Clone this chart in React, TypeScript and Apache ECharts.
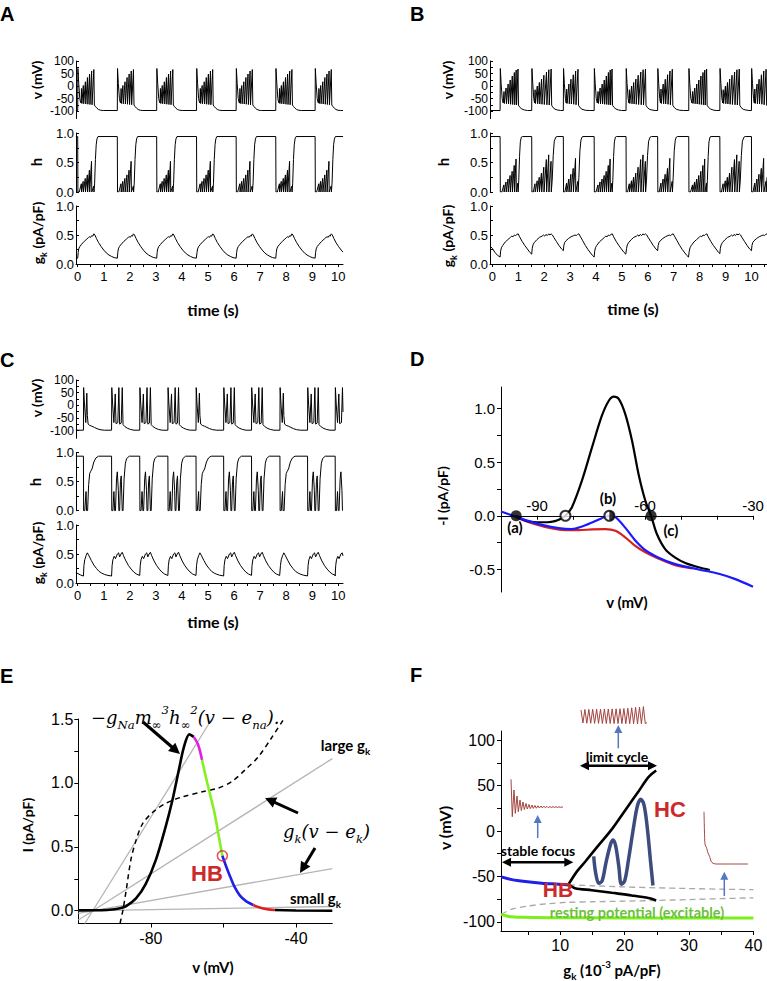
import React, { useEffect, useRef } from "react";
import * as echarts from "echarts";

type P = [number, number];

// ================= Panel A (regular bursting) =================
const A_ONSETS = [0, 1.52, 3.03, 4.56, 6.08, 7.6, 9.11];
const A_TYPES = [0, 0, 0, 0, 0, 0, 0];
const A_PRE_V: P[] = [[-0.07, -98]];
const A_PRE_H: P[] = [[-0.07, 0.94]];
const A_PRE_GK: P[] = [[-0.07, 0.1]];
const A_V: P[] = [[0,-98],[0.008,70],[0.04,10],[0.08,-50],[0.11,-65],[0.13,-68],[0.145,-10],[0.16,-70],[0.215,2],[0.23,-71],[0.295,17],[0.31,-72],[0.375,34],[0.39,-73],[0.455,48],[0.47,-74],[0.535,60],[0.55,-75],[0.62,66],[0.64,-76],[0.68,-82],[0.74,-89],[0.8,-94],[0.88,-97],[0.98,-98]];
const A_H: P[] = [[0,0.94],[0.008,0],[0.06,0],[0.14,0.14],[0.15,0],[0.21,0.18],[0.22,0],[0.29,0.23],[0.3,0],[0.37,0.29],[0.38,0],[0.45,0.37],[0.46,0],[0.53,0.52],[0.54,0],[0.615,0.1],[0.625,0],[0.65,0.15],[0.68,0.55],[0.71,0.8],[0.74,0.9],[0.78,0.94]];
const A_GK: P[] = [[0,0.1],[0.02,0.2],[0.04,0.26],[0.08,0.3],[0.15,0.34],[0.25,0.39],[0.35,0.43],[0.42,0.46],[0.46,0.47],[0.5,0.46],[0.54,0.49],[0.58,0.48],[0.62,0.52],[0.66,0.5],[0.72,0.44],[0.8,0.37],[0.9,0.3],[1.0,0.24],[1.1,0.19],[1.2,0.155],[1.3,0.13],[1.4,0.11],[1.52,0.1]];

// ================= Panel B (three alternating burst types) =================
const B_ONSETS = [0.3, 1.52, 2.74, 3.93, 5.16, 6.38, 7.58, 8.78, 10.0];
const B_TYPES = [0, 1, 2, 0, 1, 2, 0, 1, 2];
const B_PRE_V: P[] = [[-0.09, -98]];
const B_PRE_H: P[] = [[-0.09, 0.94]];
const B_PRE_GK: P[] = [[-0.09,0.31],[0,0.27],[0.1,0.2],[0.2,0.15],[0.3,0.12]];
const B1_V: P[] = [[0,-98],[0.008,70],[0.04,10],[0.08,-50],[0.12,-68],[0.15,-22],[0.165,-70],[0.23,-8],[0.245,-71],[0.31,8],[0.325,-72],[0.39,24],[0.405,-73],[0.47,40],[0.485,-74],[0.55,54],[0.565,-75],[0.62,64],[0.635,-76],[0.69,68],[0.71,-77],[0.76,-85],[0.84,-92],[0.94,-96],[1.06,-98]];
const B1_H: P[] = [[0,0.94],[0.008,0],[0.07,0],[0.145,0.12],[0.155,0],[0.225,0.17],[0.235,0],[0.305,0.22],[0.315,0],[0.385,0.28],[0.395,0],[0.465,0.35],[0.475,0],[0.545,0.45],[0.555,0],[0.615,0.56],[0.625,0],[0.685,0.15],[0.695,0],[0.72,0.2],[0.75,0.6],[0.78,0.85],[0.82,0.93],[0.86,0.94]];
const B1_GK: P[] = [[0,0.12],[0.02,0.22],[0.05,0.28],[0.1,0.32],[0.2,0.38],[0.3,0.42],[0.4,0.46],[0.45,0.48],[0.5,0.47],[0.55,0.5],[0.6,0.49],[0.65,0.51],[0.7,0.52],[0.75,0.47],[0.85,0.39],[0.95,0.32],[1.05,0.26],[1.15,0.2],[1.22,0.17]];
const B2_V: P[] = [[0,-98],[0.008,70],[0.04,10],[0.08,-50],[0.11,-68],[0.13,-15],[0.145,-70],[0.215,0],[0.23,-71],[0.295,14],[0.31,-72],[0.38,28],[0.395,-73],[0.47,43],[0.485,-74],[0.57,56],[0.585,-75],[0.66,65],[0.675,-76],[0.75,68],[0.77,-77],[0.82,-86],[0.9,-93],[1.0,-96],[1.12,-98]];
const B2_H: P[] = [[0,0.94],[0.008,0],[0.06,0],[0.125,0.14],[0.135,0],[0.21,0.19],[0.22,0],[0.29,0.25],[0.3,0],[0.375,0.32],[0.385,0],[0.465,0.42],[0.475,0],[0.565,0.55],[0.575,0],[0.655,0.63],[0.665,0],[0.745,0.52],[0.755,0],[0.79,0.2],[0.83,0.62],[0.87,0.86],[0.93,0.93],[0.98,0.94]];
const B2_GK: P[] = [[0,0.17],[0.02,0.27],[0.05,0.33],[0.1,0.37],[0.2,0.42],[0.3,0.46],[0.4,0.48],[0.45,0.5],[0.5,0.48],[0.55,0.51],[0.6,0.49],[0.66,0.52],[0.7,0.5],[0.75,0.52],[0.8,0.5],[0.85,0.46],[0.95,0.39],[1.05,0.32],[1.15,0.26],[1.22,0.23]];
const B3_V: P[] = [[0,-98],[0.008,70],[0.04,10],[0.08,-50],[0.11,-68],[0.13,-12],[0.145,-70],[0.215,8],[0.23,-71],[0.295,27],[0.31,-72],[0.385,45],[0.4,-73],[0.475,60],[0.49,-75],[0.565,67],[0.585,-77],[0.64,-86],[0.72,-93],[0.85,-97],[1.0,-98]];
const B3_H: P[] = [[0,0.94],[0.008,0],[0.06,0],[0.125,0.15],[0.135,0],[0.21,0.22],[0.22,0],[0.29,0.3],[0.3,0],[0.38,0.4],[0.39,0],[0.47,0.57],[0.48,0],[0.56,0.18],[0.57,0],[0.6,0.25],[0.64,0.7],[0.68,0.88],[0.72,0.93],[0.76,0.94]];
const B3_GK: P[] = [[0,0.23],[0.02,0.32],[0.05,0.37],[0.1,0.4],[0.2,0.44],[0.3,0.47],[0.4,0.49],[0.45,0.5],[0.5,0.49],[0.55,0.51],[0.6,0.52],[0.65,0.48],[0.75,0.4],[0.85,0.32],[0.95,0.25],[1.05,0.19],[1.12,0.15],[1.19,0.12]];

// ================= Panel C (2-spike and 4-spike bursts) =================
const C_ONSETS = [0.22, 1.3, 2.38, 3.46, 4.54, 5.6, 6.67, 7.76, 8.82, 9.88];
const C_TYPES = [0, 1, 1, 1, 0, 1, 1, 0, 1, 1];
const C_PRE_V: P[] = [[-0.07, -98]];
const C_PRE_H: P[] = [[-0.07, 0.94]];
const C_PRE_GK: P[] = [[-0.07,0.18],[0.1,0.14],[0.22,0.12]];
const CS_V: P[] = [[0,-98],[0.008,70],[0.04,5],[0.09,-68],[0.13,48],[0.15,-40],[0.18,-74],[0.24,-79],[0.32,-82],[0.42,-87],[0.52,-92],[0.64,-96],[0.8,-98]];
const CS_H: P[] = [[0,0.94],[0.008,0],[0.05,0],[0.1,0.33],[0.12,0],[0.16,0],[0.2,0.45],[0.24,0.64],[0.28,0.68],[0.33,0.72],[0.4,0.84],[0.48,0.91],[0.58,0.94]];
const CS_GK: P[] = [[0,0.12],[0.02,0.3],[0.05,0.4],[0.1,0.47],[0.15,0.52],[0.2,0.48],[0.3,0.39],[0.4,0.31],[0.5,0.25],[0.6,0.2],[0.7,0.17],[0.8,0.15],[0.9,0.135],[1.08,0.12]];
const CL_V: P[] = [[0,-98],[0.008,70],[0.04,5],[0.09,-68],[0.14,45],[0.17,-72],[0.24,-68],[0.28,70],[0.31,-74],[0.37,-70],[0.41,70],[0.44,-76],[0.5,-83],[0.6,-90],[0.72,-95],[0.86,-98]];
const CL_H: P[] = [[0,0.94],[0.008,0],[0.05,0],[0.09,0.33],[0.12,0],[0.15,0],[0.19,0.55],[0.22,0.67],[0.26,0.35],[0.28,0],[0.31,0],[0.34,0.5],[0.37,0.6],[0.41,0],[0.44,0],[0.48,0.55],[0.53,0.82],[0.58,0.9],[0.68,0.94]];
const CL_GK: P[] = [[0,0.12],[0.02,0.3],[0.05,0.4],[0.1,0.46],[0.15,0.42],[0.22,0.5],[0.27,0.52],[0.31,0.45],[0.36,0.5],[0.41,0.53],[0.46,0.47],[0.55,0.38],[0.65,0.3],[0.75,0.24],[0.85,0.19],[0.95,0.155],[1.08,0.13]];

// ================= Panel D (I-V curves) =================
const D_BLACK: P[] = [[-95.8,0],[-93.2,-0.045],[-90,-0.06],[-87,-0.06],[-85,-0.05],[-83.5,-0.03],[-82.1,0],[-80.3,0.08],[-77.5,0.33],[-74.7,0.64],[-72,0.93],[-70.1,1.07],[-68.7,1.11],[-67.3,1.09],[-65.5,0.95],[-63.6,0.7],[-61.8,0.39],[-59.9,0.14],[-58.3,0],[-56.7,-0.17],[-54.4,-0.31],[-51.6,-0.39],[-48.8,-0.44],[-45.1,-0.48],[-42,-0.505]];
const D_BLUE: P[] = [[-100,0.04],[-95.8,-0.01],[-93.2,-0.04],[-88.6,-0.084],[-84,-0.115],[-80.3,-0.124],[-77.5,-0.1],[-74.7,-0.062],[-72,-0.022],[-69.9,0],[-68.2,-0.012],[-65.5,-0.11],[-62.7,-0.23],[-59.9,-0.32],[-56.2,-0.39],[-51.6,-0.45],[-45.1,-0.5],[-39.5,-0.54],[-34.9,-0.59],[-30,-0.66]];
const D_RED: P[] = [[-95.8,-0.015],[-90.5,-0.078],[-85.8,-0.118],[-82.1,-0.133],[-78.4,-0.134],[-74.7,-0.127],[-71,-0.124],[-68.2,-0.14],[-65.5,-0.2],[-62.7,-0.28],[-59.9,-0.34],[-56.2,-0.4],[-51.6,-0.46],[-47,-0.49]];
const D_STABLE: P[] = [[-95.8, 0], [-58.3, 0]];
const D_UNSTABLE: P[] = [[-82.1, 0]];
const D_HALF: P[] = [[-69.9, 0]];

// ================= Panel E =================
const E_BLACK_RISE: P[] = [[-100,0.003],[-95,0.004],[-91.4,0.008],[-88.5,0.02],[-86.8,0.036],[-84.1,0.096],[-81.4,0.21],[-78.6,0.4],[-75.9,0.66],[-74.1,0.86],[-72.3,1.1],[-70.9,1.28],[-69.4,1.38],[-68.2,1.36]];
const E_MAGENTA: P[] = [[-68.2,1.36],[-67,1.3],[-65.9,1.18]];
const E_GREEN: P[] = [[-65.9,1.18],[-64.8,1.04],[-63.6,0.9],[-62.5,0.77],[-61.4,0.6],[-60.3,0.43]];
const E_BLUE: P[] = [[-60.3,0.43],[-59.3,0.35],[-58.2,0.27],[-57,0.19],[-55.5,0.12],[-53.8,0.075],[-51.8,0.045]];
const E_RED: P[] = [[-51.8,0.045],[-50,0.025],[-48,0.012],[-45.9,0.006]];
const E_BLACK_TAIL: P[] = [[-45.9,0.006],[-40,0.002],[-30,0]];
const E_DASHED: P[] = [[-88.5,-0.1],[-87.7,0.005],[-86.8,0.16],[-85.5,0.4],[-84.1,0.55],[-82.3,0.68],[-79.5,0.77],[-75.9,0.84],[-71.4,0.89],[-65.9,0.93],[-61.4,0.96],[-57.7,1.01],[-54.1,1.1],[-50.5,1.2],[-46.8,1.35],[-43.6,1.49]];
const E_GK_LINES: P[][] = [
  [[-98.2,-0.1],[-63.2,1.5]],
  [[-100,-0.073],[-30,1.19]],
  [[-100,-0.02],[-30,0.33]],
  [[-100,-0.002],[-30,0.033]],
];
const E_HB: P[] = [[-60.3, 0.43]];

// ================= Panel F (bifurcation diagram) =================
const F_BLUE: P[] = [[0.84,-50.5],[2.5,-53.5],[4.57,-55.6],[7.15,-57.5],[9.74,-58.5],[11.4,-59.3]];
const F_UPPER: P[] = [[11.3,-58.5],[12.6,-44.4],[13.9,-33.5],[16,-15.3],[18,1.8],[20.1,22.9],[22.2,44],[23.7,59.3],[24.9,66.5]];
const F_LOWER: P[] = [[11.3,-58.5],[12.3,-62.9],[14.9,-65.1],[18,-68],[21.1,-70.9],[23.7,-73.8],[24.9,-76.4]];
const F_UNSTABLE: P[] = [[11.4,-59.3],[15,-60.2],[20,-61.5],[25,-62.5],[30,-63.3],[35,-64],[40,-64.5]];
const F_SADDLE: P[] = [[0.84,-91.6],[2.5,-86],[5,-82.5],[8,-80],[11,-78.5],[15,-77.8],[20,-77.2],[25,-76.4],[30,-75.4],[35,-74.4],[40,-73.5]];
const F_REST: P[] = [[0.84,-91.6],[2,-94],[4,-95],[10,-95.4],[20,-95.6],[40,-95.8]];
const F_HC: P[] = [[15.2,-28],[15.5,-46],[16.0,-57.5],[16.5,-55],[17.1,-35],[17.8,-15],[18.2,-9.8],[18.6,-16],[19.1,-39],[19.5,-58.5],[20.0,-55],[20.6,-31.6],[21.4,4.7],[22.0,28],[22.5,35],[23.0,29],[23.5,4.7],[24.0,-31.6],[24.4,-60]];
// inset traces (own small unit systems)
const INSET_FOCUS: P[] = [[0,40.7],[1.3,3.3],[3,30],[4.3,6.7],[6,24],[7.3,8.3],[9,20],[10.3,9.5],[12,18],[13.3,10.5],[15,16.5],[16.3,11],[18,15.5],[19.3,11.3],[21,15],[22.3,11.6],[24,14.5],[25.3,11.8],[27,14.2],[28.3,12],[30,14],[31.3,12.1],[33,13.8],[34.3,12.2],[36,13.6],[37.3,12.3],[39,13.5],[40.3,12.4],[42,13.4],[43.3,12.5],[45,13.3],[46.3,12.6],[48,13.2],[49.3,12.6],[51,13.1],[52,12.8]];
const INSET_CYCLE: P[] = [[0,14],[1.9,1],[3.9,14.5],[5.8,0.8],[7.8,14.6],[9.7,0.7],[11.7,14.7],[13.6,0.6],[15.6,14.8],[17.5,0.6],[19.5,14.8],[21.4,0.5],[23.4,15],[25.3,0.5],[27.3,15],[29.2,0.5],[31.2,15.1],[33.1,0.4],[35.1,15.2],[37,0.4],[39,15.3],[40.9,0.4],[42.9,15.5],[44.8,0.3],[46.8,15.8],[48.7,0.3],[50.7,16.2],[52.6,0.3],[54.6,16.6],[56.5,0.2],[58.5,17],[60.4,0.2],[62.4,17.4],[64.3,0.2],[66,1.5]];
const INSET_REST: P[] = [[0,53.3],[0.7,25],[1.2,20],[2.4,17.7],[4,12],[5.7,8.3],[7,4],[9,1.7],[12,1],[20,1],[44,1]];

// ================= ticks / labels =================
const TIME_LABELS = [0, 1, 2, 3, 4, 5, 6, 7, 8, 9, 10];
const TIME_TICKS = [0, 0.5, 1, 1.5, 2, 2.5, 3, 3.5, 4, 4.5, 5, 5.5, 6, 6.5, 7, 7.5, 8, 8.5, 9, 9.5, 10, 10.5];
const V_LABELS = [-100, -50, 0, 50, 100];
const V_TICKS = [-100, -75, -50, -25, 0, 25, 50, 75, 100];
const UNIT_LABELS = [0, 0.5, 1];
const UNIT_TICKS = [0, 0.25, 0.5, 0.75, 1];
const D_X_LABELS = [-90, -60, -30];
const D_X_TICKS = [-100, -90, -80, -70, -60, -50, -40, -30];
const D_Y_LABELS = [-0.5, 0, 0.5, 1];
const D_Y_TICKS = [-0.5, -0.25, 0, 0.25, 0.5, 0.75, 1];
const E_X_LABELS = [-80, -40];
const E_X_TICKS = [-80, -60, -40];
const E_Y_LABELS = [0, 0.5, 1, 1.5];
const E_Y_TICKS = [0, 0.25, 0.5, 0.75, 1, 1.25, 1.5];
const F_X_LABELS = [10, 20, 30, 40];
const F_X_TICKS = [5, 10, 15, 20, 25, 30, 35, 40];
const F_Y_LABELS = [-100, -50, 0, 50, 100];
const F_Y_TICKS = [-100, -75, -50, -25, 0, 25, 50, 75, 100];

const SANS = "'Liberation Sans', Arial, sans-serif";
const TITLE = "Lato, 'Open Sans', sans-serif";
const SERIF = "'DejaVu Serif', 'Liberation Serif', serif";
const RED_TXT = "#cc2a2a";
const PI2 = Math.PI / 2;

function buildTrace(pre: P[], onsets: number[], types: number[], templates: P[][], tEnd: number): P[] {
  const out: P[] = pre.map((p) => [p[0], p[1]] as P);
  onsets.forEach((t0, i) => {
    const tpl = templates[types[i]];
    const next = i + 1 < onsets.length ? onsets[i + 1] : tEnd;
    const span = next - t0;
    for (let k = 0; k < tpl.length; k++) {
      const [dt, y] = tpl[k];
      if (dt <= span) { out.push([t0 + dt, y]); continue; }
      const [pdt, py] = tpl[k - 1];
      out.push([next, py + ((y - py) * (span - pdt)) / (dt - pdt)]);
      return;
    }
    const last = tpl[tpl.length - 1];
    if (last[0] < span) out.push([next, last[1]]);
  });
  return out;
}

const fmt1 = (v: number) => v.toFixed(1);
const fmtI = (v: number) => String(v);

function ax(gi: number, min: number, max: number, o: any = {}) {
  return {
    type: "value", gridIndex: gi, min, max, show: o.show !== false,
    offset: o.offset || 0,
    axisLine: { show: true, onZero: false, lineStyle: { color: "#000", width: 1 } },
    axisTick: { show: !!o.ticks, customValues: o.ticks, inside: !!o.tickInside, length: o.tickLen || 3, lineStyle: { color: "#000", width: 1 } },
    axisLabel: {
      show: !!o.labels, customValues: o.labels, inside: !!o.labelInside, margin: o.margin ?? 4,
      fontSize: o.fontSize || 13, lineHeight: o.fontSize || 13, color: "#000", fontFamily: SANS, formatter: o.fmt,
      showMinLabel: true, showMaxLabel: true, hideOverlap: false,
    },
    splitLine: { show: false },
  };
}

function line(gi: number, data: P[], color = "#000", width = 1, extra: any = {}) {
  return {
    type: "line", xAxisIndex: gi, yAxisIndex: gi, data, symbol: "none", showSymbol: false,
    lineStyle: { color, width, ...(extra.lineStyle || {}) }, itemStyle: { color }, silent: true,
    smooth: extra.smooth || false, z: extra.z || 2,
  };
}

function rich(size: number, family = TITLE, weight = "bold", style = "normal") {
  return {
    b: { fontSize: size, fontFamily: family, fontWeight: weight, fontStyle: style, lineHeight: size * 1.5 },
    s: { fontSize: size * 0.65, fontFamily: family, fontWeight: weight, fontStyle: style, verticalAlign: "bottom" },
    p: { fontSize: size * 0.65, fontFamily: family, fontWeight: weight, fontStyle: style, verticalAlign: "top" },
  };
}

function txt(x: number, y: number, text: string, o: any = {}) {
  const align = o.align || "center";
  const va = o.va || "middle";
  return {
    type: "text", x, y, rotation: o.rot || 0, z: 100,
    style: {
      text, fill: o.color || "#000", fontSize: o.size || 14, fontWeight: o.weight || "bold",
      fontFamily: o.family || TITLE, fontStyle: o.fstyle || "normal",
      align, verticalAlign: va, textAlign: align, textVerticalAlign: va, rich: o.rich,
    },
  };
}

function arrow(x1: number, y1: number, x2: number, y2: number, color: string, w: number, head: number, both = false) {
  const ang = Math.atan2(y2 - y1, x2 - x1);
  const ux = Math.cos(ang), uy = Math.sin(ang);
  const hw = head * 0.5;
  const tri = (tx: number, ty: number, dx: number, dy: number) => [
    [tx, ty],
    [tx - dx * head - dy * hw, ty - dy * head + dx * hw],
    [tx - dx * head + dy * hw, ty - dy * head - dx * hw],
  ];
  const sx = both ? x1 + ux * head * 0.8 : x1, sy = both ? y1 + uy * head * 0.8 : y1;
  const ex = x2 - ux * head * 0.8, ey = y2 - uy * head * 0.8;
  const els: any[] = [
    { type: "line", z: 100, shape: { x1: sx, y1: sy, x2: ex, y2: ey }, style: { stroke: color, lineWidth: w } },
    { type: "polygon", z: 100, shape: { points: tri(x2, y2, ux, uy) }, style: { fill: color } },
  ];
  if (both) els.push({ type: "polygon", z: 100, shape: { points: tri(x1, y1, -ux, -uy) }, style: { fill: color } });
  return els;
}

function buildOption() {
  const aMax = 10.18, aMin = -0.065, bMin = -0.09, bMax = 10.6;
  const dYMin = -0.71, dYMax = 1.2, dTop = 387, dH = 205;
  const dZeroOffset = -((0 - dYMin) / (dYMax - dYMin)) * dH; // move x axis up to I = 0
  const grid = [
    { left: 76, top: 61, width: 267, height: 57.5 },
    { left: 76, top: 133, width: 267, height: 59 },
    { left: 76, top: 206, width: 267, height: 58 },
    { left: 490, top: 61, width: 277.3, height: 57.5 },
    { left: 490, top: 133, width: 277.3, height: 59 },
    { left: 490, top: 206, width: 277.3, height: 58 },
    { left: 76, top: 380, width: 267, height: 58.3 },
    { left: 76, top: 452.7, width: 267, height: 58 },
    { left: 76, top: 525, width: 267, height: 58 },
    { left: 501, top: dTop, width: 252, height: dH },
    { left: 78.3, top: 719, width: 254, height: 204.5 },
    { left: 501, top: 731, width: 252.4, height: 200 },
    { left: 511, top: 778, width: 52, height: 42 },
    { left: 581, top: 704, width: 66, height: 20 },
    { left: 704, top: 810, width: 44, height: 55 },
  ];

  const timeX = (gi: number, min: number, max: number, visible: boolean) =>
    visible
      ? ax(gi, min, max, { ticks: TIME_TICKS, labels: TIME_LABELS, fmt: fmtI, margin: 6, fontSize: 13 })
      : ax(gi, min, max, { show: false });
  const vY = (gi: number) => ax(gi, -130, 100, { ticks: V_TICKS, labels: V_LABELS, fmt: fmtI, tickInside: true, margin: 2, fontSize: 12 });
  const uY = (gi: number) => ax(gi, 0, 1, { ticks: UNIT_TICKS, labels: UNIT_LABELS, fmt: fmt1, tickInside: true, margin: 2, fontSize: 13 });

  const xAxis: any[] = [
    timeX(0, aMin, aMax, false), timeX(1, aMin, aMax, false), timeX(2, aMin, aMax, true),
    timeX(3, bMin, bMax, false), timeX(4, bMin, bMax, false), timeX(5, bMin, bMax, true),
    timeX(6, aMin, aMax, false), timeX(7, aMin, aMax, false), timeX(8, aMin, aMax, true),
    ax(9, -100, -30, { ticks: D_X_TICKS, labels: D_X_LABELS, fmt: fmtI, offset: dZeroOffset, labelInside: true, margin: 3, fontSize: 15, tickLen: 4 }),
    ax(10, -100, -30, { ticks: E_X_TICKS, labels: E_X_LABELS, fmt: fmtI, margin: 7, fontSize: 16, tickLen: 4 }),
    ax(11, 0.8, 40, { ticks: F_X_TICKS, labels: F_X_LABELS, fmt: fmtI, margin: 6, fontSize: 16, tickLen: 4 }),
    ax(12, 0, 52, { show: false }), ax(13, 0, 66, { show: false }), ax(14, 0, 44, { show: false }),
  ];
  const yAxis: any[] = [
    vY(0), uY(1), uY(2), vY(3), uY(4), uY(5), vY(6), uY(7), uY(8),
    ax(9, dYMin, dYMax, { ticks: D_Y_TICKS, labels: D_Y_LABELS, fmt: fmt1, margin: 6, fontSize: 15, tickLen: 4 }),
    ax(10, -0.1, 1.5, { ticks: E_Y_TICKS, labels: E_Y_LABELS, fmt: fmt1, margin: 5, fontSize: 16, tickLen: 4 }),
    ax(11, -110, 110, { ticks: F_Y_TICKS, labels: F_Y_LABELS, fmt: fmtI, margin: 6, fontSize: 16, tickLen: 4 }),
    ax(12, 0, 42, { show: false }), ax(13, 0, 20, { show: false }), ax(14, 0, 55, { show: false }),
  ];

  const series: any[] = [
    line(0, buildTrace(A_PRE_V, A_ONSETS, A_TYPES, [A_V], aMax)),
    line(1, buildTrace(A_PRE_H, A_ONSETS, A_TYPES, [A_H], aMax)),
    line(2, buildTrace(A_PRE_GK, A_ONSETS, A_TYPES, [A_GK], aMax)),
    line(3, buildTrace(B_PRE_V, B_ONSETS, B_TYPES, [B1_V, B2_V, B3_V], bMax)),
    line(4, buildTrace(B_PRE_H, B_ONSETS, B_TYPES, [B1_H, B2_H, B3_H], bMax)),
    line(5, buildTrace(B_PRE_GK, B_ONSETS, B_TYPES, [B1_GK, B2_GK, B3_GK], bMax)),
    line(6, buildTrace(C_PRE_V, C_ONSETS, C_TYPES, [CS_V, CL_V], aMax)),
    line(7, buildTrace(C_PRE_H, C_ONSETS, C_TYPES, [CS_H, CL_H], aMax)),
    line(8, buildTrace(C_PRE_GK, C_ONSETS, C_TYPES, [CS_GK, CL_GK], aMax)),
    // D
    line(9, D_RED, "#d42020", 2.2, { smooth: 0.3 }),
    line(9, D_BLACK, "#000", 2.2, { smooth: 0.3 }),
    line(9, D_BLUE, "#1a1aff", 2.2, { smooth: 0.3 }),
    { type: "scatter", xAxisIndex: 9, yAxisIndex: 9, data: D_STABLE, symbol: "circle", symbolSize: 11, itemStyle: { color: "#000" }, z: 5, silent: true },
    { type: "scatter", xAxisIndex: 9, yAxisIndex: 9, data: D_UNSTABLE.concat(D_HALF), symbol: "circle", symbolSize: 10, itemStyle: { color: "#fff", borderColor: "#000", borderWidth: 2 }, z: 5, silent: true },
    { type: "scatter", xAxisIndex: 9, yAxisIndex: 9, data: D_HALF, symbol: "path://M0 0A5 5 0 0 1 0 10Z", symbolSize: [5, 10], symbolOffset: [2.5, 0], itemStyle: { color: "#000" }, z: 6, silent: true },
    // E
    ...E_GK_LINES.map((d) => line(10, d, "#b5b5b5", 1.3)),
    line(10, E_DASHED, "#000", 1.5, { smooth: 0.3, lineStyle: { type: [5, 4] } }),
    line(10, E_BLACK_RISE, "#000", 2.6, { smooth: 0.3, z: 3 }),
    line(10, E_MAGENTA, "#e020e0", 2.6, { smooth: 0.3, z: 3 }),
    line(10, E_GREEN, "#84f01e", 2.6, { smooth: 0.3, z: 3 }),
    line(10, E_BLUE, "#2020e6", 2.6, { smooth: 0.3, z: 3 }),
    line(10, E_RED, "#e02020", 2.6, { smooth: 0.3, z: 3 }),
    line(10, E_BLACK_TAIL, "#000", 2.6, { z: 3 }),
    { type: "scatter", xAxisIndex: 10, yAxisIndex: 10, data: E_HB, symbol: "circle", symbolSize: 10, itemStyle: { color: "rgba(0,0,0,0)", borderColor: "#d42a2a", borderWidth: 1.6 }, z: 6, silent: true },
    // F
    line(11, F_SADDLE, "#a8a8a8", 1.3, { smooth: 0.3, lineStyle: { type: [6, 4] } }),
    line(11, F_UNSTABLE, "#a8a8a8", 1.3, { smooth: 0.3, lineStyle: { type: [6, 4] } }),
    line(11, F_REST, "#7cf01a", 3, { smooth: 0.3 }),
    line(11, F_BLUE, "#2020e6", 3, { smooth: 0.3 }),
    line(11, F_UPPER, "#000", 2.6, { smooth: 0.3, z: 3 }),
    line(11, F_LOWER, "#000", 2.6, { smooth: 0.3, z: 3 }),
    line(11, F_HC, "#3d4c7e", 3.5, { smooth: 0.35, z: 4 }),
    line(12, INSET_FOCUS, "#a3433f", 1),
    line(13, INSET_CYCLE, "#a3433f", 1),
    line(14, INSET_REST, "#a3433f", 1, { smooth: 0.2 }),
  ];

  const gkTitle = "{b|g}{s|k}{b| (pA/pF)}";
  const graphics: any[] = [
    // panel letters
    txt(0, 14, "A", { align: "left", size: 20, family: SANS }),
    txt(410, 14, "B", { align: "left", size: 20, family: SANS }),
    txt(0, 360, "C", { align: "left", size: 20, family: SANS }),
    txt(410, 359, "D", { align: "left", size: 20, family: SANS }),
    txt(0, 675.5, "E", { align: "left", size: 20, family: SANS }),
    txt(410, 675, "F", { align: "left", size: 20, family: SANS }),
    // A
    txt(36, 80, "v (mV)", { rot: PI2, size: 14 }),
    txt(36, 162, "h", { rot: PI2, size: 15 }),
    txt(37, 233, gkTitle, { rot: PI2, rich: rich(14) }),
    txt(213, 309, "time (s)", { size: 16 }),
    // B
    txt(447, 80, "v (mV)", { rot: PI2, size: 14 }),
    txt(443, 162, "h", { rot: PI2, size: 15 }),
    txt(447, 236, gkTitle, { rot: PI2, rich: rich(14) }),
    txt(633, 308, "time (s)", { size: 16 }),
    // C
    txt(36, 398, "v (mV)", { rot: PI2, size: 14 }),
    txt(35, 482, "h", { rot: PI2, size: 15 }),
    txt(37, 553, gkTitle, { rot: PI2, rich: rich(14) }),
    txt(213, 621, "time (s)", { size: 16 }),
    // D
    txt(442, 496, "-I (pA/pF)", { rot: PI2, size: 14 }),
    txt(627, 602, "v (mV)", { size: 15 }),
    txt(515, 527, "(a)", { size: 15 }),
    txt(608, 497.5, "(b)", { size: 15 }),
    txt(671, 529.5, "(c)", { size: 15 }),
    // E
    txt(27.5, 825, "I (pA/pF)", { rot: PI2, size: 14 }),
    txt(213, 967, "v (mV)", { size: 15 }),
    txt(91, 717, "{b|−g}{s|Na}{b|m}{s|∞}{p|3}{b|h}{s|∞}{p|2}{b|(v − e}{s|na}{b|).}", { align: "left", rich: rich(18, SERIF, "normal", "italic") }),
    txt(320.7, 745, "{b|large g}{s|k}", { align: "left", rich: rich(15) }),
    txt(283, 831, "{b|g}{s|k}{b|(v − e}{s|k}{b|)}", { align: "left", rich: rich(18, SERIF, "normal", "italic") }),
    txt(290, 898, "{b|small g}{s|k}", { align: "left", rich: rich(15) }),
    txt(207, 873, "HB", { size: 22, family: SANS, color: RED_TXT }),
    // F
    txt(444, 828, "v (mV)", { rot: PI2, size: 16 }),
    txt(612, 970, "{b|g}{s|k}{b| (10}{p|-3}{b| pA/pF)}", { rich: rich(15) }),
    txt(617, 756, "limit cycle", { size: 14 }),
    txt(538, 850, "stable focus", { size: 14 }),
    txt(654, 809, "HC", { align: "left", size: 22, family: SANS, color: RED_TXT }),
    txt(558, 889, "HB", { size: 21, family: SANS, color: RED_TXT }),
    txt(637, 912, "resting potential (excitable)", { size: 14.5, color: "#6cbf3c" }),
    // arrows
    ...arrow(143, 722, 180, 754, "#000", 3, 11),
    ...arrow(298, 813, 265, 798, "#000", 3, 11),
    ...arrow(315, 848, 300, 873, "#000", 3, 11),
    ...arrow(580, 765.7, 657, 765.7, "#000", 2.5, 9, true),
    ...arrow(502, 862.3, 573.3, 862.3, "#000", 2.5, 9, true),
    ...arrow(537.7, 838, 537.7, 815, "#5577c0", 1.5, 8),
    ...arrow(618.3, 748.3, 618.3, 725, "#5577c0", 1.5, 8),
    ...arrow(724.3, 896, 724.3, 871.7, "#5577c0", 1.5, 8),
  ];

  return { animation: false, backgroundColor: "#fff", grid, xAxis, yAxis, series, graphic: { elements: graphics } };
}

export default function App() {
  const ref = useRef<HTMLDivElement>(null);
  useEffect(() => {
    if (!ref.current) return;
    const chart = echarts.init(ref.current, null, { renderer: "svg" });
    chart.setOption(buildOption() as any);
    return () => chart.dispose();
  }, []);
  return <div ref={ref} style={{ position: "absolute", left: 0, top: 0, width: 767, height: 981, background: "#fff" }} />;
}
